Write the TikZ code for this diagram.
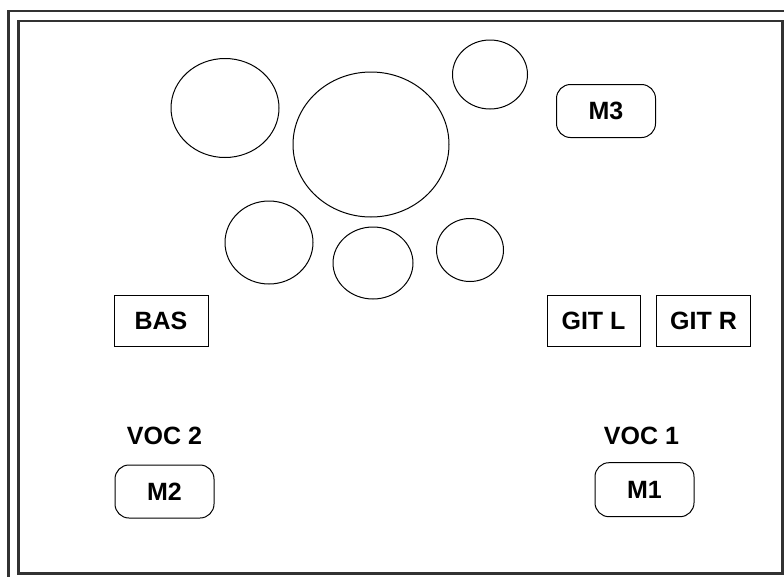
\documentclass[tikz,border=0pt]{standalone}
\usepackage{fontspec}
\setmainfont{Liberation Sans}
\usepackage{tikz}
\usetikzlibrary{positioning, shapes.geometric}
\usepackage{xcolor}
\definecolor{FrameGray}{RGB}{50, 50, 50}
\tikzset{%
  drum/.style={%
    ellipse,%
    draw=black,%
    line width=1pt,%
    inner sep=0pt,%
  },
  amp/.style={%
    rectangle,%
    draw=black,%
    line width=1pt,%
    minimum width=94pt,%
    minimum height=51pt,%
    font={\bfseries\fontsize{25}{30}\selectfont},%
    align=center%
  },
  mic/.style={%
    rectangle,%
    rounded corners=14pt,%
    draw=black,%
    line width=1pt,%
    minimum width=99pt,%
    minimum height=53pt,%
    font={\bfseries\fontsize{25}{30}\selectfont},%
    align=center%
  },
  voice/.style={%
    inner sep=0pt,%
    font={\bfseries\fontsize{25}{30}\selectfont},%
  },
  stage_frame/.style={%
    draw=FrameGray,%
    line width=2.4pt,%
  },
}

\begin{document}
\begin{tikzpicture}[x=1pt, y=-1pt]

    \useasboundingbox (0, 0) rectangle (784, 576);
    \clip (0, 0) rectangle (784, 576);

    % frame
    \draw [stage_frame] (8.3, 11) rectangle (800, 600);
    \draw [stage_frame] (18.5, 21) rectangle (782.5, 573.5);

    % drums
    \node [drum, minimum width=108pt, minimum height=99pt] (Crash) at (225, 108) {};
    \node [drum, minimum width=156pt, minimum height=145pt] (Kick) at (371, 144.5) {};
    \node [drum, minimum width=75pt, minimum height=69pt] (Ride) at (490, 74.5) {};
    \node [drum, minimum width=88pt, minimum height=83pt] (TomLeft) at (269, 242.5) {};
    \node [drum, minimum width=80pt, minimum height=72pt] (Snare) at (373, 263) {};
    \node [drum, minimum width=67pt, minimum height=63pt] (HiHat) at (470, 250) {};

    % mics and amps
    \node [mic] (M3) at (606, 111) {M3};
    \node [amp] (Bas) at (161, 320.5) {BAS};
    \node [amp, minimum width=93pt] (GitL) at (593.5, 320.5) {GIT L};
    \node [amp, right = 15.5pt of GitL] (GitR) {GIT R};

    \node [mic] (M2) at (164.5, 491.5) {M2};
    \node [mic, minimum height=54pt] (M1) at (644.5, 489.7) {M1};
    \node [voice, above = 20pt of M2] (Voc2) {VOC 2};
    \node [voice, above = 17.5pt of M1, xshift=-3pt] (Voc1) {VOC 1};

  \end{tikzpicture}
\end{document}
